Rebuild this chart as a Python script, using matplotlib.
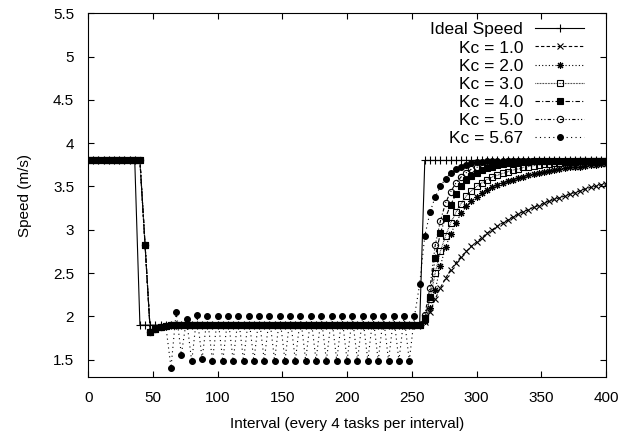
import numpy as np
import matplotlib
matplotlib.use("Agg")
import matplotlib.pyplot as plt

plt.rcParams['font.family'] = ['Liberation Sans', 'DejaVu Sans']
plt.rcParams['font.size'] = 11

# interval index (one sample every 4 intervals)
interval = np.arange(0, 401, 4)

# ideal speed: 3.8 -> 1.9 -> 3.8
ideal = [3.8] * 10 + [1.9] * 55 + [3.8] * 36

# common start of the Kc runs (x = 0 .. 60)
kc_start = [3.8] * 11 + [2.82, 1.82, 1.86, 1.88, 1.89]

kc_1_0 = kc_start + [1.9] * 49 + [
    1.93, 2.05, 2.20, 2.33, 2.44, 2.54, 2.62, 2.69, 2.75, 2.81, 2.86, 2.91,
    2.96, 3.00, 3.04, 3.08, 3.11, 3.15, 3.18, 3.21, 3.23, 3.26, 3.28, 3.31,
    3.33, 3.35, 3.37, 3.39, 3.41, 3.43, 3.45, 3.47, 3.49, 3.50, 3.52, 3.53]

kc_2_0 = kc_start + [1.9] * 49 + [
    1.95, 2.10, 2.30, 2.58, 2.80, 2.95, 3.08, 3.19, 3.27, 3.33, 3.38, 3.42,
    3.46, 3.49, 3.52, 3.54, 3.56, 3.58, 3.60, 3.61, 3.63, 3.64, 3.65, 3.67,
    3.68, 3.69, 3.70, 3.71, 3.72, 3.72, 3.73, 3.74, 3.75, 3.75, 3.76, 3.76]

kc_3_0 = kc_start + [1.9] * 49 + [
    1.97, 2.20, 2.50, 2.75, 2.93, 3.08, 3.20, 3.30, 3.39, 3.45, 3.50, 3.54,
    3.58, 3.61, 3.63, 3.65, 3.67, 3.69, 3.70, 3.72, 3.73, 3.74, 3.75, 3.76,
    3.76, 3.77, 3.77, 3.78, 3.78, 3.78, 3.79, 3.79, 3.79, 3.79, 3.79, 3.79]

kc_4_0 = kc_start + [1.9] * 49 + [
    1.98, 2.23, 2.68, 2.96, 3.14, 3.29, 3.41, 3.50, 3.57, 3.62, 3.66, 3.69,
    3.71, 3.73, 3.75, 3.76, 3.77, 3.77, 3.78, 3.78, 3.78] + [3.79] * 15

kc_5_0 = kc_start + [1.9] * 49 + [
    2.02, 2.33, 2.82, 3.10, 3.31, 3.44, 3.54, 3.61, 3.66, 3.70, 3.72, 3.74,
    3.76, 3.77, 3.78, 3.78] + [3.79] * 20

kc_5_67 = kc_start + [1.41, 2.05, 1.56, 1.97, 1.48, 2.02, 1.51, 2.00] \
    + [1.49, 2.00] * 20 + [
    2.37, 2.93, 3.20, 3.38, 3.50, 3.59, 3.66, 3.70, 3.73, 3.75, 3.77, 3.78,
    3.78] + [3.79] * 24

fig = plt.figure(figsize=(6.34, 4.40), dpi=100)
ax = fig.add_axes([0.139, 0.143, 0.817, 0.827])

lw = 0.8
ax.plot(interval, ideal, color='black', lw=lw, marker='+', ms=6, mew=0.8,
        label='Ideal Speed')
ax.plot(interval, kc_1_0, color='black', lw=lw, dashes=(3, 2), marker='x',
        ms=4.5, mew=0.8, label='Kc = 1.0')
ax.plot(interval, kc_2_0, color='black', lw=lw, dashes=(1, 2),
        marker=(8, 2, 0), ms=5, mew=0.8, label='Kc = 2.0')
ax.plot(interval, kc_3_0, color='black', lw=lw, dashes=(0.6, 0.8), marker='s',
        ms=4.5, mew=0.8, mfc='none', label='Kc = 3.0')
ax.plot(interval, kc_4_0, color='black', lw=lw, dashes=(4, 2, 1, 2),
        marker='s', ms=4.5, mew=0.8, label='Kc = 4.0')
ax.plot(interval, kc_5_0, color='black', lw=lw, dashes=(3, 2, 1, 2, 1, 2),
        marker='o', ms=4.5, mew=0.8, mfc='none', label='Kc = 5.0')
ax.plot(interval, kc_5_67, color='black', lw=lw, dashes=(1, 3), marker='o',
        ms=4.2, mew=0.8, label='Kc = 5.67')

ax.set_xlim(0, 400)
ax.set_ylim(1.3, 5.5)
ax.set_xticks(np.arange(0, 401, 50))
ax.set_yticks(np.arange(1.5, 5.51, 0.5))
ax.set_yticklabels(['%g' % v for v in np.arange(1.5, 5.51, 0.5)])
ax.tick_params(direction='in', top=True, right=True, length=4.5, width=0.8,
               pad=10)
for s in ax.spines.values():
    s.set_linewidth(0.8)

ax.set_xlabel('Interval (every 4 tasks per interval)', labelpad=9)
ax.set_ylabel('Speed (m/s)', labelpad=15)

ax.legend(loc='upper right', frameon=False, markerfirst=False, numpoints=1,
          handlelength=2.8, handletextpad=0.7, labelspacing=0.17,
          borderpad=0, borderaxespad=0, fontsize=12.5,
          bbox_to_anchor=(0.957, 0.975))

fig.savefig('out.png', dpi=100)
